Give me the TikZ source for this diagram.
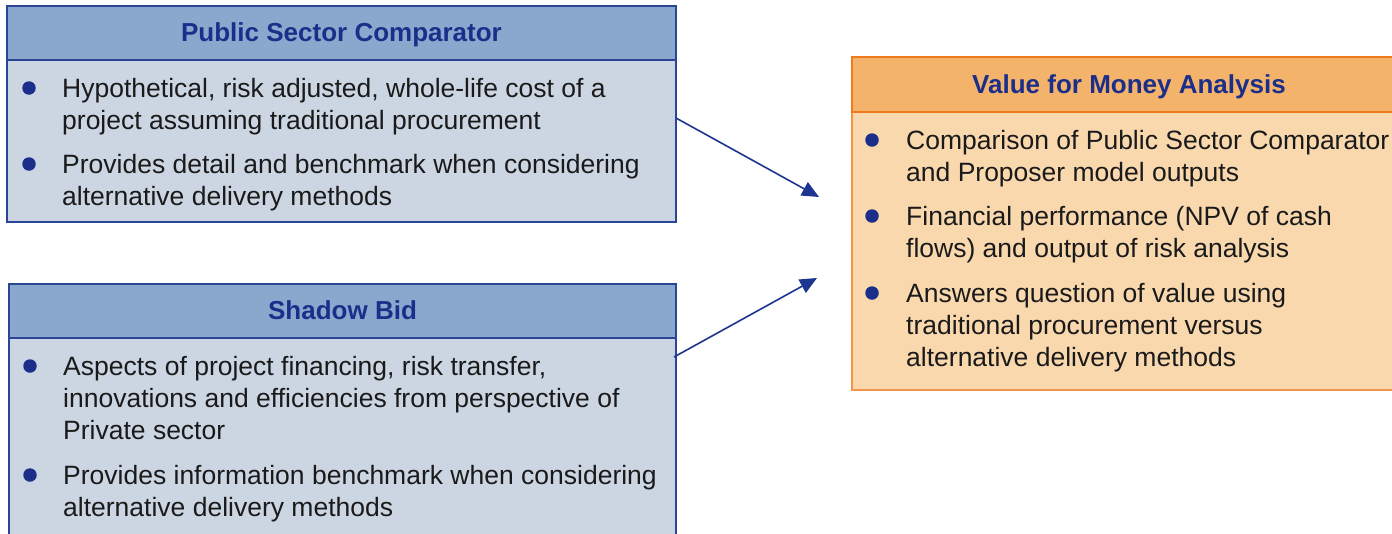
\documentclass[tikz,border=0pt]{standalone}
\usepackage{fontspec}
\setmainfont{Liberation Sans}
\usetikzlibrary{arrows.meta,calc}

\definecolor{hdrblue}{HTML}{8AA7CE}
\definecolor{bodyblue}{HTML}{CCD6E3}
\definecolor{edgeblue}{HTML}{2A4596}
\definecolor{navy}{HTML}{1B2F8A}
\definecolor{hdrorange}{HTML}{F4B36B}
\definecolor{bodyorange}{HTML}{F9D8AE}
\definecolor{edgeorange}{HTML}{F07A1C}
\definecolor{ink}{HTML}{1A1A1A}
\definecolor{arrowblue}{HTML}{1D3590}

\begin{document}
\begin{tikzpicture}[x=1pt,y=-1pt,
  panel/.style={draw=#1, line width=1.4pt, anchor=north west, inner sep=0pt, outer sep=0pt},
  titlebar/.style={panel=#1, font=\fontsize{26}{30}\selectfont\bfseries, text=navy,
    text height=18.5pt, text depth=1pt},
  dot/.style={circle, fill=navy, inner sep=0pt, minimum size=13.5pt},
  item/.style={anchor=base west, align=left, inner sep=0pt, text=ink,
    font=\fontsize{26.5}{32}\selectfont},
  conn/.style={draw=arrowblue, line width=1.6pt, -{Triangle[length=17pt,width=15pt]}}
]
\useasboundingbox (0,0) rectangle (1392,533);
\clip (0,0) rectangle (1392,533);

% Public Sector Comparator panel (items anchored at the baseline of their last line)
\node[panel=edgeblue, fill=bodyblue, minimum width=669pt, minimum height=216pt] (psc) at (7,6) {};
\node[titlebar=edgeblue, fill=hdrblue, minimum width=669pt, minimum height=54pt] (psch) at (7,6) {Public Sector Comparator};
\node[dot] (pscb1) at (29,88) {};
\node[item] (psct1) at (62,129) {Hypothetical, risk adjusted, whole-life cost of a\\project assuming traditional procurement};
\node[dot] (pscb2) at (29,164) {};
\node[item] (psct2) at (62,205) {Provides detail and benchmark when considering\\alternative delivery methods};

% Shadow Bid panel
\node[panel=edgeblue, fill=bodyblue, minimum width=667pt, minimum height=280pt] (sb) at (9,284) {};
\node[titlebar=edgeblue, fill=hdrblue, minimum width=667pt, minimum height=54pt] (sbh) at (9,284) {Shadow Bid};
\node[dot] (sbb1) at (30,366) {};
\node[item] (sbt1) at (63,439) {Aspects of project financing, risk transfer,\\innovations and efficiencies from perspective of\\Private sector};
\node[dot] (sbb2) at (30,475) {};
\node[item] (sbt2) at (63,516) {Provides information benchmark when considering\\alternative delivery methods};

% Value for Money Analysis panel
\node[panel=edgeorange!80, fill=bodyorange, minimum width=554pt, minimum height=333pt] (vfm) at (852,57) {};
\node[titlebar=edgeorange, fill=hdrorange, minimum width=554pt, minimum height=55pt] (vfmh) at (852,57) {Value for Money Analysis};
\node[dot] (vfmb1) at (872,140) {};
\node[item] (vfmt1) at (906,181) {Comparison of Public Sector Comparator\\and Proposer model outputs};
\node[dot] (vfmb2) at (872,216) {};
\node[item] (vfmt2) at (906,257) {Financial performance (NPV of cash\\flows) and output of risk analysis};
\node[dot] (vfmb3) at (872,293) {};
\node[item] (vfmt3) at (906,366) {Answers question of value using\\traditional procurement versus\\alternative delivery methods};

% Connectors into the analysis panel
\coordinate (tipA) at (819,197);
\coordinate (tipB) at (817,278);
\draw[conn] ($(psc.north east)+(0,112)$) -- (tipA);
\draw[conn] ($(sb.north east)+(-2,73)$) -- (tipB);
\end{tikzpicture}
\end{document}
